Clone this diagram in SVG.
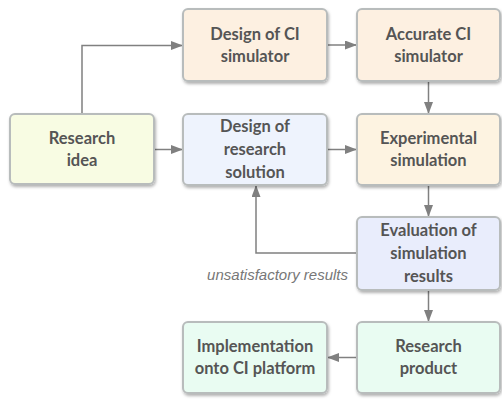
<svg xmlns="http://www.w3.org/2000/svg" width="502" height="400" viewBox="0 0 502 400">
<defs>
<filter id="sh" x="-10%" y="-10%" width="130%" height="130%">
<feDropShadow dx="1" dy="2" stdDeviation="1.5" flood-color="#000" flood-opacity="0.3"/>
</filter>
<marker id="ah" markerUnits="userSpaceOnUse" markerWidth="13" markerHeight="10" refX="12" refY="4.5" orient="auto">
<path d="M0,0 L12,4.5 L0,9 z" fill="#808080"/>
</marker>
<style>
.box{stroke:#b8bcbc;stroke-width:2;filter:url(#sh)}
.t{font-family:Lato,"Noto Sans",sans-serif;font-weight:bold;font-size:16.5px;fill:#555;text-anchor:middle}
.c{fill:none;stroke:#808080;stroke-width:1.5;marker-end:url(#ah)}
.lbl{font-family:"Liberation Sans",Arial,sans-serif;font-style:italic;font-size:15px;fill:#777}
</style>
</defs>
<rect width="502" height="400" fill="#fff"/>
<g id="connectors">
<path class="c" d="M82,114 V45.5 H183"/>
<path class="c" d="M154,149.5 H183"/>
<path class="c" d="M327,45 H357"/>
<path class="c" d="M428.5,81 V114"/>
<path class="c" d="M327,149.5 H357"/>
<path class="c" d="M428.5,185 V217"/>
<path class="c" d="M357,253 H256 V185"/>
<path class="c" d="M428.5,290 V322"/>
<path class="c" d="M357,357.5 H327"/>
<text class="lbl" x="348" y="280" text-anchor="end">unsatisfactory results</text>
</g>
<g id="idea"><rect class="box" x="10" y="114" width="144" height="70" rx="5" fill="#f8fce3"/>
<text class="t" x="82" y="143.5">Research</text><text class="t" x="82" y="165.5">idea</text></g>
<g id="design-ci"><rect class="box" x="183" y="9" width="144" height="72" rx="5" fill="#fdf0e1"/>
<text class="t" x="255" y="39.5">Design of CI</text><text class="t" x="255" y="61.5">simulator</text></g>
<g id="accurate"><rect class="box" x="357" y="9" width="143" height="72" rx="5" fill="#fdf0e1"/>
<text class="t" x="428.5" y="39.5">Accurate CI</text><text class="t" x="428.5" y="61.5">simulator</text></g>
<g id="design-rs"><rect class="box" x="183" y="114" width="144" height="71" rx="5" fill="#eef3fd"/>
<text class="t" x="255" y="132">Design of</text><text class="t" x="255" y="155">research</text><text class="t" x="255" y="178">solution</text></g>
<g id="experimental"><rect class="box" x="357" y="114" width="143" height="71" rx="5" fill="#fdf3e1"/>
<text class="t" x="428.5" y="144">Experimental</text><text class="t" x="428.5" y="166">simulation</text></g>
<g id="evaluation"><rect class="box" x="357" y="217" width="143" height="73" rx="5" fill="#e9edfc"/>
<text class="t" x="428.5" y="236">Evaluation of</text><text class="t" x="428.5" y="259">simulation</text><text class="t" x="428.5" y="282">results</text></g>
<g id="product"><rect class="box" x="357" y="322" width="143" height="71" rx="5" fill="#e9fcf2"/>
<text class="t" x="428.5" y="352">Research</text><text class="t" x="428.5" y="374">product</text></g>
<g id="implementation"><rect class="box" x="183" y="322" width="144" height="71" rx="5" fill="#e9fcf2"/>
<text class="t" x="255" y="352">Implementation</text><text class="t" x="255" y="374">onto CI platform</text></g>
</svg>
